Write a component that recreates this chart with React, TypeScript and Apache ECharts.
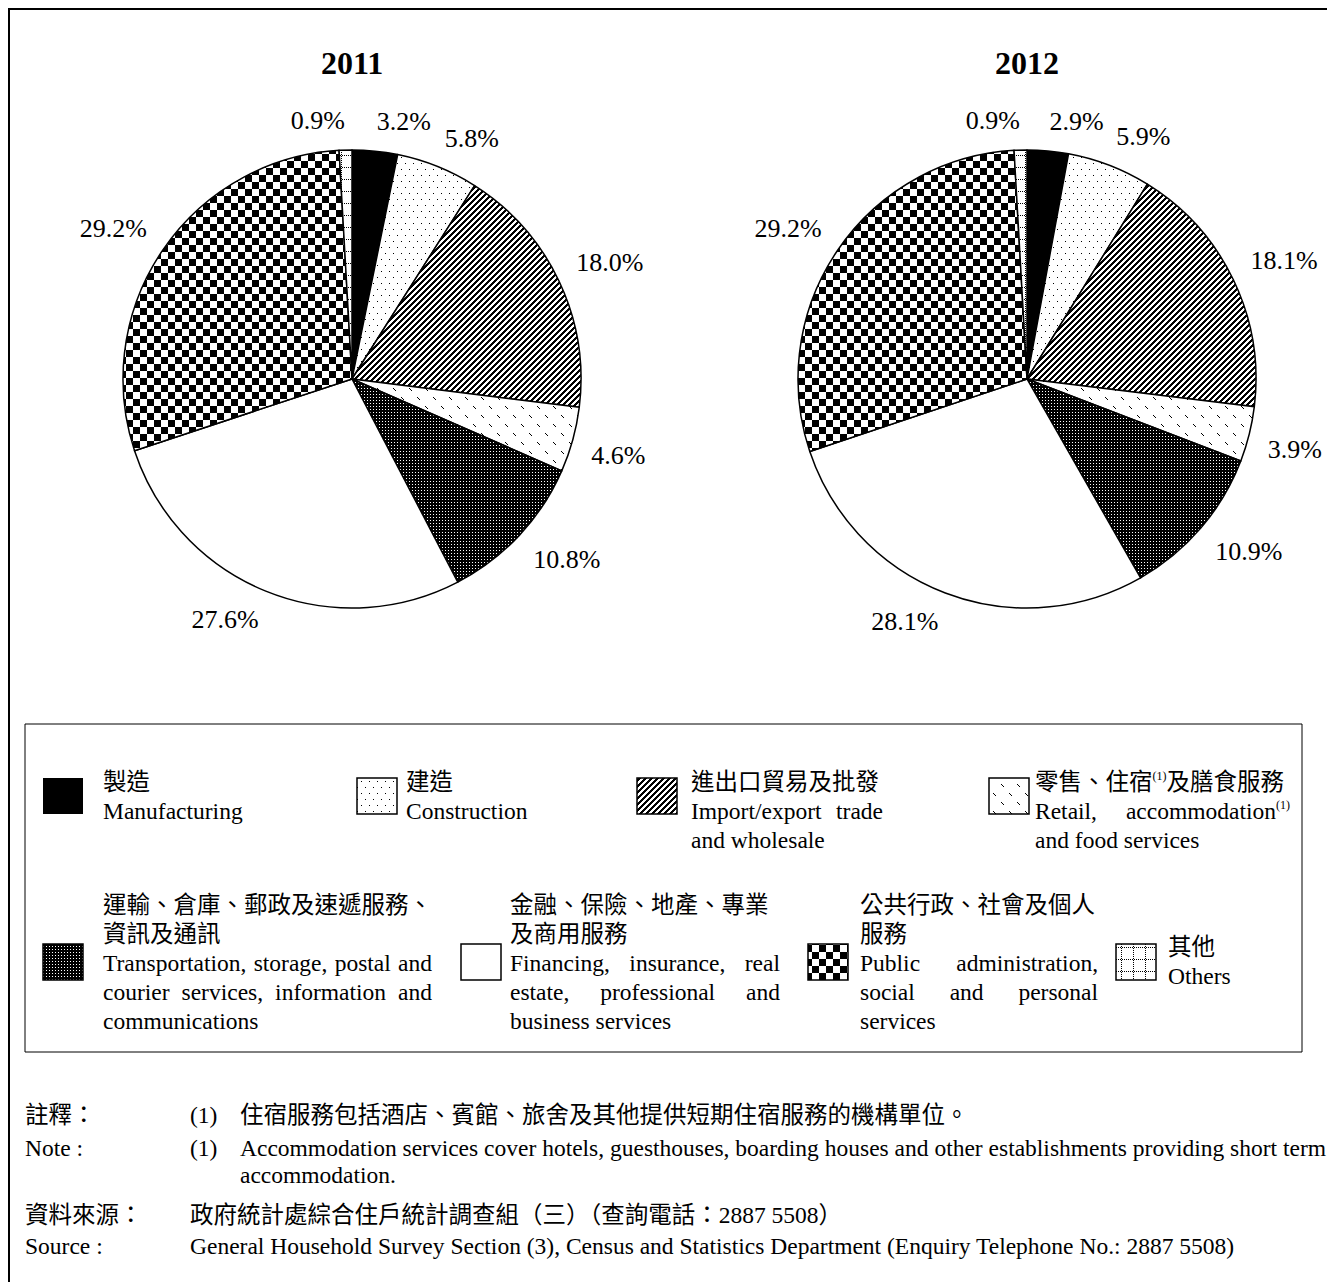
import React, { useEffect, useRef } from "react";
import * as echarts from "echarts";

// ---------- data ----------
const years = ["2011", "2012"];
const categoriesEn = [
  "Manufacturing",
  "Construction",
  "Import/export trade and wholesale",
  "Retail, accommodation and food services",
  "Transportation, storage, postal and courier services, information and communications",
  "Financing, insurance, real estate, professional and business services",
  "Public administration, social and personal services",
  "Others",
];
const values2011 = [3.2, 5.8, 18.0, 4.6, 10.8, 27.6, 29.2, 0.9];
const values2012 = [2.9, 5.9, 18.1, 3.9, 10.9, 28.1, 29.2, 0.9];

const legendZh = [
  ["製造"],
  ["建造"],
  ["進出口貿易及批發"],
  ["零售、住宿{s|(1)}及膳食服務"],
  ["運輸、倉庫、郵政及速遞服務、", "資訊及通訊"],
  ["金融、保險、地產、專業", "及商用服務"],
  ["公共行政、社會及個人", "服務"],
  ["其他"],
];
const legendEn = [
  ["Manufacturing"],
  ["Construction"],
  ["Import/export trade", "and wholesale"],
  ["Retail, accommodation{s|(1)}", "and food services"],
  ["Transportation, storage, postal and", "courier services, information and", "communications"],
  ["Financing, insurance, real", "estate, professional and", "business services"],
  ["Public administration,", "social and personal", "services"],
  ["Others"],
];

const noteLabelZh = "註釋：";
const noteLabelEn = "Note :";
const noteNum = "(1)";
const noteZh = "住宿服務包括酒店、賓館、旅舍及其他提供短期住宿服務的機構單位。";
const noteEn = [
  "Accommodation services cover hotels, guesthouses, boarding houses and other establishments providing short term",
  "accommodation.",
];
const sourceLabelZh = "資料來源：";
const sourceLabelEn = "Source :";
const sourceZh = "政府統計處綜合住戶統計調查組（三）（查詢電話：2887 5508）";
const sourceEn =
  "General Household Survey Section (3), Census and Statistics Department (Enquiry Telephone No.: 2887 5508)";

// ---------- layout ----------
const FONT = "'Liberation Serif','Times New Roman','Noto Sans CJK TC',serif";
const PIE_R = 229;
const PIE_CENTERS = [
  [352, 379],
  [1027, 379],
];
const LABEL_FS = 26;
const LABEL_GAP = 19; // distance of label's inner corner beyond the pie edge
const LEG_FS = 23.5;
const LINE_H = 29;
const legendLayout = [
  { ix: 43, iy: 778, tx: 103, ty: 782, w: 0 },
  { ix: 357, iy: 778, tx: 406, ty: 782, w: 0 },
  { ix: 637, iy: 778, tx: 691, ty: 782, w: 192 },
  { ix: 989, iy: 778, tx: 1035, ty: 782, w: 255 },
  { ix: 43, iy: 944, tx: 103, ty: 905, w: 329 },
  { ix: 461, iy: 944, tx: 510, ty: 905, w: 270 },
  { ix: 808, iy: 944, tx: 860, ty: 905, w: 238 },
  { ix: 1116, iy: 944, tx: 1168, ty: 947, w: 0 },
];

// ---------- patterns ----------
function makeTile(
  w: number,
  h: number,
  draw: (px: (x: number, y: number) => void, g: CanvasRenderingContext2D) => void,
  bg = "#fff"
) {
  const c = document.createElement("canvas");
  c.width = w;
  c.height = h;
  const g = c.getContext("2d")!;
  g.fillStyle = bg;
  g.fillRect(0, 0, w, h);
  g.fillStyle = bg === "#fff" ? "#000" : "#fff";
  draw((x, y) => g.fillRect(x, y, 1, 1), g);
  return { image: c.toDataURL(), repeat: "repeat", imageWidth: w, imageHeight: h } as any;
}

function buildPatterns() {
  const dots = makeTile(8, 12, (px) => {
    px(1, 1);
    px(5, 7);
  });
  const hatch = makeTile(6, 6, (px) => {
    for (let x = 0; x < 6; x++)
      for (let y = 0; y < 6; y++) if ((x + y) % 6 < 3) px(x, y);
  });
  const dashes = makeTile(16, 18, (px) => {
    for (let k = 0; k < 3; k++) {
      px(1 + k, 1 + k);
      px(9 + k, 10 + k);
    }
  });
  const dense = makeTile(3, 3, (px) => px(1, 1), "#000");
  const checker = makeTile(14, 14, (_px, g) => {
    g.fillRect(0, 0, 7, 7);
    g.fillRect(7, 7, 7, 7);
  });
  const others = makeTile(12, 12, (px) => {
    for (let y = 0; y < 12; y += 2) px(5, y);
    for (let x = 0; x < 12; x += 2) px(x, 11);
  });
  return ["#000", dots, hatch, dashes, dense, "#fff", checker, others];
}

// ---------- text helpers ----------
const measureCtx = document.createElement("canvas").getContext("2d")!;
const SUP_FS = 12;
function splitSup(word: string) {
  const parts = word.split(/\{s\|([^}]*)\}/);
  return parts.map((p, i) => ({ text: p, sup: i % 2 === 1 }));
}
function measure(word: string, fs: number) {
  let w = 0;
  for (const p of splitSup(word)) {
    measureCtx.font = `${p.sup ? SUP_FS : fs}px ${FONT}`;
    w += measureCtx.measureText(p.text).width;
  }
  return w;
}
const rich = { s: { fontSize: SUP_FS, fontFamily: FONT, fill: "#000", verticalAlign: "top" } };
function textEl(text: string, x: number, y: number, fs: number, extra: any = {}) {
  return {
    type: "text",
    x,
    y,
    silent: true,
    style: { text, fontSize: fs, fontFamily: FONT, fill: "#000", align: "left", verticalAlign: "middle", rich, ...extra },
  };
}
function lineEls(text: string, x: number, y: number, fs: number, width: number, justify: boolean) {
  const words = text.split(" ");
  if (!justify || words.length < 2 || !width) return [textEl(text, x, y, fs)];
  const ws = words.map((w) => measure(w, fs));
  const total = ws.reduce((a, b) => a + b, 0);
  const gap = Math.max(fs * 0.2, (width - total) / (words.length - 1));
  const out: any[] = [];
  let cx = x;
  words.forEach((w, i) => {
    out.push(textEl(w, cx, y, fs));
    cx += ws[i] + gap;
  });
  return out;
}

// mid-angle (radians, math orientation) of each slice, clockwise from 12 o'clock
function midAngles(vals: number[]) {
  const sum = vals.reduce((a, b) => a + b, 0);
  let cum = 0;
  return vals.map((v) => {
    const a = ((90 - (360 * (cum + v / 2)) / sum) * Math.PI) / 180;
    cum += v;
    return a;
  });
}

function buildOption() {
  const patterns = buildPatterns();
  const allVals = [values2011, values2012];
  const mids = allVals.map(midAngles);
  const graphics: any[] = [];
  // outer frame (extends beyond page)
  graphics.push({
    type: "rect",
    silent: true,
    shape: { x: 9, y: 9, width: 1400, height: 1400 },
    style: { fill: "none", stroke: "#000", lineWidth: 2 },
  });
  // legend box
  graphics.push({
    type: "rect",
    silent: true,
    shape: { x: 25, y: 724, width: 1277, height: 328 },
    style: { fill: "none", stroke: "#000", lineWidth: 1 },
  });
  // titles
  years.forEach((yr, i) => {
    graphics.push({
      type: "text",
      x: PIE_CENTERS[i][0],
      y: 63,
      silent: true,
      style: { text: yr, fontSize: 32, fontWeight: "bold", fontFamily: FONT, fill: "#000", align: "center", verticalAlign: "middle" },
    });
  });
  // legend
  legendLayout.forEach((L, i) => {
    graphics.push({
      type: "rect",
      silent: true,
      shape: { x: L.ix, y: L.iy, width: 40, height: 36 },
      style: { fill: patterns[i], stroke: "#000", lineWidth: i === 0 ? 0 : 1.5 },
    });
    const lines: string[] = [...legendZh[i], ...legendEn[i]];
    const zhCount = legendZh[i].length;
    lines.forEach((ln, k) => {
      const isLastOfPara = k === zhCount - 1 || k === lines.length - 1;
      const justify = k >= zhCount && !isLastOfPara;
      graphics.push(...lineEls(ln, L.tx, L.ty + k * LINE_H, LEG_FS, L.w, justify));
    });
  });
  // notes
  const NFS = 23.5;
  graphics.push(textEl(noteLabelZh, 25, 1115, NFS));
  graphics.push(textEl(noteNum, 190, 1115, NFS));
  graphics.push(textEl(noteZh, 240, 1115, NFS));
  graphics.push(textEl(noteLabelEn, 25, 1148, NFS));
  graphics.push(textEl(noteNum, 190, 1148, NFS));
  graphics.push(textEl(noteEn[0], 240, 1148, NFS));
  graphics.push(textEl(noteEn[1], 240, 1175, NFS));
  graphics.push(textEl(sourceLabelZh, 25, 1215, NFS));
  graphics.push(textEl(sourceZh, 190, 1215, NFS));
  graphics.push(textEl(sourceLabelEn, 25, 1246, NFS));
  graphics.push(textEl(sourceEn, 190, 1246, NFS));

  const series = allVals.map((vals, si) => ({
    type: "pie",
    silent: true,
    center: PIE_CENTERS[si],
    radius: PIE_R,
    startAngle: 90,
    clockwise: true,
    avoidLabelOverlap: false,
    data: vals.map((v, i) => ({ value: v, name: categoriesEn[i], itemStyle: { color: patterns[i] } })),
    itemStyle: { borderColor: "#000", borderWidth: 1.5 },
    label: {
      show: true,
      position: "outside",
      formatter: (p: any) => `${Number(p.value).toFixed(1)}%`,
      fontFamily: FONT,
      fontSize: LABEL_FS,
      color: "#000",
    },
    labelLine: { show: false },
  }));

  // place each label outside the pie: its inner corner sits just beyond the rim along the slice's mid-angle
  const labelLayout = (p: any) => {
    const si = p.seriesIndex;
    const a = mids[si][p.dataIndex];
    const ux = Math.cos(a);
    const uy = -Math.sin(a);
    const [cx, cy] = PIE_CENTERS[si];
    const R = PIE_R + LABEL_GAP;
    const hw = p.labelRect.width / 2;
    const hh = LABEL_FS * 0.42;
    return {
      x: cx + R * ux + Math.sign(ux) * hw,
      y: cy + R * uy + Math.sign(uy) * hh,
      align: "center",
      verticalAlign: "middle",
    };
  };

  return {
    animation: false,
    backgroundColor: "#fff",
    series: series.map((s) => ({ ...s, labelLayout })),
    graphic: { elements: graphics },
  };
}

export default function App() {
  const ref = useRef<HTMLDivElement>(null);
  useEffect(() => {
    if (!ref.current) return;
    const chart = echarts.init(ref.current, null, { renderer: "svg" });
    chart.setOption(buildOption() as any);
    return () => chart.dispose();
  }, []);
  return (
    <div
      ref={ref}
      style={{ position: "absolute", left: 0, top: 0, width: 1327, height: 1282, background: "#fff" }}
    />
  );
}
